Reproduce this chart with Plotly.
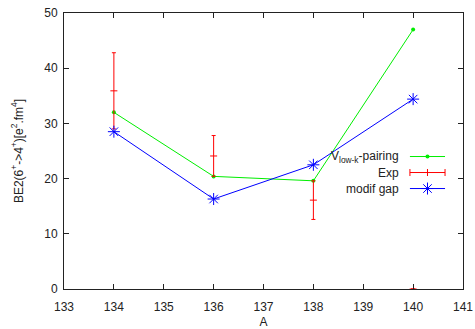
import plotly.graph_objects as go

A = [134, 136, 138, 140]
pairing = [32.0, 20.4, 19.6, 47.0]
exp_val = [35.9, 24.1, 16.1, 0.0]
exp_err = [6.9, 3.7, 3.5, 0.0]
modif_gap = [28.5, 16.3, 22.5, 34.4]

x_ticks = [133, 134, 135, 136, 137, 138, 139, 140, 141]
y_ticks = [0, 10, 20, 30, 40, 50]

FONT = "Liberation Sans, Arial, sans-serif"
GREEN = "#00ee00"
RED = "#ff0000"
BLUE = "#0000ff"

fig = go.Figure()

fig.add_trace(go.Scatter(
    x=A, y=pairing, mode="lines+markers",
    line=dict(color=GREEN, width=1),
    marker=dict(symbol="circle", size=4, color=GREEN),
    showlegend=False))
fig.add_trace(go.Scatter(
    x=A, y=exp_val, mode="markers",
    marker=dict(symbol="line-ew", size=5, color=RED, line=dict(color=RED, width=1)),
    error_y=dict(type="data", array=exp_err, visible=True, color=RED, thickness=1, width=2),
    showlegend=False))
fig.add_trace(go.Scatter(
    x=A, y=modif_gap, mode="lines+markers",
    line=dict(color=BLUE, width=1),
    marker=dict(symbol="asterisk-open", size=10, color=BLUE, line=dict(color=BLUE, width=1)),
    showlegend=False))

# legend samples on an overlay axis (0-1)
leg_y = [0.48, 0.422, 0.364]
x0, x1 = 0.867, 0.955
fig.add_trace(go.Scatter(x=[x0, x1], y=[leg_y[0]] * 2, mode="lines", line=dict(color=GREEN, width=1),
                         xaxis="x2", yaxis="y2", showlegend=False))
fig.add_trace(go.Scatter(x=[(x0 + x1) / 2], y=[leg_y[0]], mode="markers",
                         marker=dict(symbol="circle", size=4, color=GREEN),
                         xaxis="x2", yaxis="y2", showlegend=False))
fig.add_trace(go.Scatter(x=[x0, x1], y=[leg_y[1]] * 2, mode="lines", line=dict(color=RED, width=1),
                         xaxis="x2", yaxis="y2", showlegend=False))
fig.add_trace(go.Scatter(x=[x0, (x0 + x1) / 2, x1], y=[leg_y[1]] * 3, mode="markers",
                         marker=dict(symbol="line-ns", size=5, color=RED, line=dict(color=RED, width=1)),
                         xaxis="x2", yaxis="y2", showlegend=False))
fig.add_trace(go.Scatter(x=[x0, x1], y=[leg_y[2]] * 2, mode="lines", line=dict(color=BLUE, width=1),
                         xaxis="x2", yaxis="y2", showlegend=False))
fig.add_trace(go.Scatter(x=[(x0 + x1) / 2], y=[leg_y[2]], mode="markers",
                         marker=dict(symbol="asterisk-open", size=10, color=BLUE, line=dict(color=BLUE, width=1)),
                         xaxis="x2", yaxis="y2", showlegend=False))

labels = ["V<sub>low-k</sub>-pairing", "Exp", "modif gap"]
for lab, yy in zip(labels, leg_y):
    fig.add_annotation(xref="paper", yref="paper", x=0.845, y=yy, text=lab, showarrow=False,
                       xanchor="right", yanchor="middle", font=dict(family=FONT, size=12, color="#222"))

axis_common = dict(showline=True, linecolor="#222", linewidth=1, mirror="ticks", ticks="inside",
                   ticklen=5, tickcolor="#222", showgrid=False, zeroline=False, automargin=False,
                   tickfont=dict(family=FONT, size=12, color="#222"))

fig.update_layout(
    width=475, height=329,
    margin=dict(l=64, r=12, t=13, b=40),
    paper_bgcolor="white", plot_bgcolor="white",
    xaxis=dict(range=[133, 141], tickvals=x_ticks, ticklabelstandoff=7,
               title=dict(text="A", font=dict(family=FONT, size=12, color="#222"), standoff=6),
               **axis_common),
    yaxis=dict(range=[0, 50], tickvals=y_ticks, ticklabelstandoff=3,
               title=dict(text="BE2(6<sup>+</sup>->4<sup>+</sup>)[e<sup>2</sup>.fm<sup>4</sup>]",
                          font=dict(family=FONT, size=12, color="#222"), standoff=18),
               **axis_common),
    xaxis2=dict(range=[0, 1], overlaying="x", visible=False),
    yaxis2=dict(range=[0, 1], overlaying="y", visible=False),
)

fig.write_html("out.html")
